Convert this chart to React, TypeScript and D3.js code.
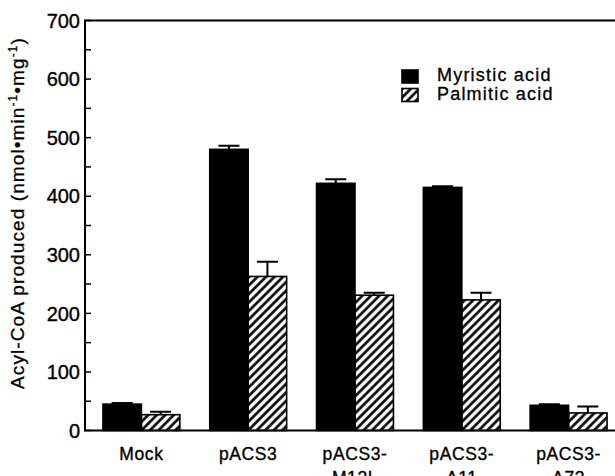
import React, { useEffect, useRef } from 'react';
import * as d3 from 'd3';

// values
const constructs = ['Mock', 'pACS3', 'pACS3-M12L', 'pACS3-Δ11', 'pACS3-Δ73'];
const labelLines = [['Mock'], ['pACS3'], ['pACS3-', 'M12L'], ['pACS3-', 'Δ11'], ['pACS3-', 'Δ73']];
const myristic = [45, 480, 422, 415, 43];
const myristicErr = [2, 6, 7, 2, 2];
const palmitic = [27, 263, 231, 223, 30];
const palmiticErr = [5, 25, 4, 12, 11];
const seriesNames = ['Myristic acid', 'Palmitic acid'];
const yTicks = [0, 100, 200, 300, 400, 500, 600, 700];

const FONT = "'Liberation Sans', Arial, Helvetica, sans-serif";

const Chart = () => {
  const ref = useRef<SVGSVGElement>(null);

  useEffect(() => {
    if (!ref.current) return;
    const svg = d3.select(ref.current);
    svg.selectAll('*').remove();

    const width = 615;
    const height = 476;
    const x0 = 85;

    const y = d3.scaleLinear().domain([0, 700]).range([430.5, 20.5]);
    const x = d3.scaleBand().domain(constructs).range([88, 622]).paddingInner(0.28).paddingOuter(0.14);
    const sub = d3.scaleBand().domain(seriesNames).range([0, x.bandwidth()]);

    // hatch pattern
    const defs = svg.append('defs');
    defs.append('pattern')
      .attr('id', 'hatch')
      .attr('patternUnits', 'userSpaceOnUse')
      .attr('width', 6)
      .attr('height', 6)
      .attr('patternTransform', 'rotate(45)')
      .append('line')
      .attr('x1', 1.5).attr('y1', 0)
      .attr('x2', 1.5).attr('y2', 6)
      .attr('stroke', '#000')
      .attr('stroke-width', 2.6);

    svg.append('rect').attr('width', width).attr('height', height).attr('fill', '#fff');

    // bars
    const rows = constructs.map((c, i) => ({
      c,
      vals: [
        { s: seriesNames[0], v: myristic[i], e: myristicErr[i] },
        { s: seriesNames[1], v: palmitic[i], e: palmiticErr[i] },
      ],
    }));

    const groups = svg.append('g').selectAll('g')
      .data(rows)
      .enter().append('g')
      .attr('transform', d => `translate(${x(d.c)},0)`);

    // error bars (upper only)
    groups.selectAll('.err')
      .data(d => d.vals)
      .enter().append('path')
      .attr('class', 'err')
      .attr('d', d => {
        const cx = sub(d.s)! + sub.bandwidth() / 2;
        const top = y(d.v + d.e);
        return `M${cx},${y(d.v)}V${top}M${cx - 10.5},${top}H${cx + 10.5}`;
      })
      .attr('stroke', '#000')
      .attr('stroke-width', 2)
      .attr('fill', 'none');

    groups.selectAll('.bar')
      .data(d => d.vals)
      .enter().append('rect')
      .attr('class', 'bar')
      .attr('x', d => sub(d.s)!)
      .attr('width', sub.bandwidth())
      .attr('y', d => y(d.v))
      .attr('height', d => y(0) - y(d.v))
      .attr('fill', d => (d.s === seriesNames[0] ? '#000' : 'url(#hatch)'))
      .attr('stroke', '#000')
      .attr('stroke-width', 1.6);

    // frame: left axis, top line, bottom axis
    svg.append('path')
      .attr('d', `M${width},${y(700)}H${x0}V${y(0)}H${width}`)
      .attr('fill', 'none')
      .attr('stroke', '#000')
      .attr('stroke-width', 2);

    // ticks every 50, pointing inward
    svg.append('g').selectAll('line')
      .data(d3.range(0, 701, 50))
      .enter().append('line')
      .attr('x1', x0 - 1).attr('x2', x0 + 6)
      .attr('y1', d => y(d)).attr('y2', d => y(d))
      .attr('stroke', '#000')
      .attr('stroke-width', 1.5);

    svg.append('g').selectAll('text')
      .data(yTicks)
      .enter().append('text')
      .attr('x', 80)
      .attr('y', d => y(d))
      .attr('dy', '0.36em')
      .attr('text-anchor', 'end')
      .attr('font-family', FONT)
      .attr('font-size', 20)
      .attr('stroke', '#000')
      .attr('stroke-width', 0.35)
      .text(d => d);

    // y title
    const yt = svg.append('text')
      .attr('transform', 'translate(23.5,213) rotate(-90)')
      .attr('text-anchor', 'middle')
      .attr('font-family', FONT)
      .attr('font-size', 19)
      .attr('letter-spacing', 1.1)
      .attr('stroke', '#000')
      .attr('stroke-width', 0.3);
    yt.append('tspan').text('Acyl-CoA produced (nmol•min');
    yt.append('tspan').attr('font-size', 12).attr('dy', -7).text('-1');
    yt.append('tspan').attr('dy', 7).text('•mg');
    yt.append('tspan').attr('font-size', 12).attr('dy', -7).text('-1');
    yt.append('tspan').attr('dy', 7).text(')');

    // x labels
    const xl = svg.append('g').selectAll('text')
      .data(constructs)
      .enter().append('text')
      .attr('text-anchor', 'middle')
      .attr('font-family', FONT)
      .attr('font-size', 17.5)
      .attr('letter-spacing', 0.6)
      .attr('stroke', '#000')
      .attr('stroke-width', 0.35);
    xl.each(function (d, i) {
      const t = d3.select(this);
      const cx = x(d)! + x.bandwidth() / 2;
      labelLines[i].forEach((line, j) => {
        t.append('tspan').attr('x', cx).attr('y', 459.5 + j * 24).text(line);
      });
    });

    // legend
    const leg = svg.append('g').attr('transform', 'translate(402,70)');
    seriesNames.forEach((s, i) => {
      leg.append('rect')
        .attr('x', 0).attr('y', i * 18.5)
        .attr('width', 16).attr('height', 13)
        .attr('fill', i === 0 ? '#000' : 'url(#hatch)')
        .attr('stroke', '#000')
        .attr('stroke-width', 1.6);
      leg.append('text')
        .attr('x', 35).attr('y', i * 18.5 + 11)
        .attr('font-family', FONT)
        .attr('font-size', 18)
        .attr('letter-spacing', 1.2)
        .attr('stroke', '#000')
        .attr('stroke-width', 0.3)
        .text(s);
    });
  }, []);

  return (
    <svg
      ref={ref}
      width={615}
      height={476}
      style={{ position: 'absolute', left: 0, top: 0, display: 'block' }}
    />
  );
};

export default function App() {
  return <Chart />;
}
